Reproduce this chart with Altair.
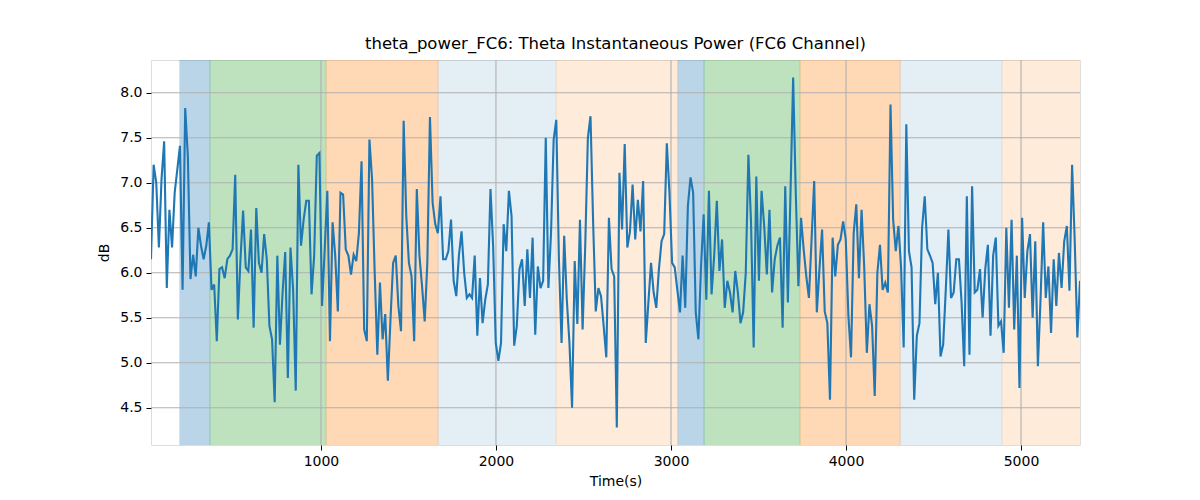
import altair as alt
import numpy as np
import pandas as pd

# theta power (dB)
values = [
    6.15, 7.20, 7.00, 6.28, 7.04, 7.46, 5.83, 6.70, 6.28, 6.89, 7.15, 7.41, 5.81, 7.83, 7.30, 5.93,
    6.20, 5.96, 6.50, 6.30, 6.15, 6.30, 6.56, 5.81, 5.87, 5.24, 6.04, 6.06, 5.94, 6.15, 6.19,
    6.26, 7.09, 5.48, 6.15, 6.69, 6.06, 6.02, 6.48, 5.39, 6.72, 6.11, 6.00, 6.43, 6.15, 5.41,
    5.26, 4.56, 6.19, 5.20, 5.78, 6.23, 4.83, 6.28, 5.81, 4.69, 7.20, 6.30, 6.59, 6.80,
    6.80, 5.76, 6.19, 7.30, 7.33, 5.63, 6.26, 6.91, 5.24, 6.56, 6.19, 5.57, 6.89, 6.87, 6.26,
    6.19, 5.98, 6.20, 6.13, 6.44, 7.24, 5.37, 5.24, 7.48, 7.04, 6.00, 5.09, 5.89, 5.26, 5.54,
    4.80, 5.48, 6.11, 6.19, 5.63, 5.35, 7.69, 6.63, 6.11, 5.96, 5.24, 6.93, 6.19, 5.85, 5.46,
    6.11, 7.73, 6.78, 6.54, 6.44, 6.85, 6.15, 6.15, 6.24, 6.59, 5.91, 5.74, 6.19, 6.46, 6.00,
    5.72, 5.76, 5.72, 6.19, 5.30, 5.94, 5.44, 5.70, 5.87, 6.93, 6.30, 5.22, 5.02, 5.22, 6.54,
    6.24, 6.91, 6.63, 5.19, 5.41, 6.04, 6.15, 5.63, 6.26, 5.72, 6.39, 5.31, 6.07, 5.83,
    5.91, 7.50, 5.83, 6.44, 7.48, 7.70, 6.15, 5.22, 6.41, 5.70, 5.22, 4.50, 6.13, 5.43, 6.59,
    5.37, 6.30, 7.50, 7.74, 6.56, 5.57, 5.83, 5.74, 5.41, 5.06, 6.61, 6.04, 5.96, 4.28, 7.11,
    6.48, 7.43, 6.28, 6.46, 6.98, 6.37, 6.81, 6.46, 7.02, 5.22, 5.67, 6.11, 5.78, 5.61, 6.04,
    6.35, 6.43, 7.44, 6.89, 6.11, 6.06, 5.81, 5.56, 6.19, 5.61, 6.74, 7.06, 6.89, 5.56,
    5.26, 6.07, 6.65, 5.70, 6.91, 5.76, 6.19, 6.80, 6.02, 6.37, 5.61, 5.91, 5.78, 5.56, 6.02,
    5.78, 5.44, 5.56, 6.00, 7.31, 6.56, 5.17, 7.07, 5.91, 6.91, 6.52, 5.98, 6.70, 5.78, 6.15,
    6.30, 6.39, 5.39, 6.96, 5.67, 6.89, 8.17, 6.89, 5.85, 6.61, 6.26, 5.96, 5.72, 6.37, 7.02,
    5.56, 6.04, 6.48, 5.57, 5.44, 4.59, 6.39, 5.96, 6.31, 6.37, 6.57, 6.37, 5.52, 5.06,
    6.44, 6.76, 5.94, 6.70, 6.07, 5.11, 5.65, 5.41, 4.63, 6.00, 6.31, 5.81, 5.89, 5.78, 7.87,
    6.59, 6.24, 6.52, 6.07, 5.17, 7.65, 6.24, 6.06, 4.59, 5.30, 5.44, 6.50, 6.85, 6.26, 6.19,
    6.11, 5.65, 6.00, 5.07, 5.20, 5.81, 6.48, 5.72, 5.78, 6.15, 6.15, 5.67, 4.96, 6.85, 5.09,
    6.96, 5.78, 5.81, 6.04, 5.50, 6.04, 6.31, 5.30, 6.19, 6.39, 5.41, 5.46, 5.11, 6.50,
    5.61, 6.59, 5.37, 6.19, 4.72, 6.61, 5.72, 6.24, 6.43, 5.50, 6.35, 4.96, 5.70, 6.56, 5.72,
    6.07, 5.33, 6.15, 5.63, 6.22, 5.83, 6.35, 6.52, 5.80, 7.20, 6.35, 5.28, 5.91,
]
t_first, t_last = 29.0, 5337.0
times = np.linspace(t_first, t_last, len(values))

# shaded phases
span_start = [194, 366, 1029, 1669, 2343, 3040, 3189, 3737, 4309, 4891]
span_end = [366, 1029, 1669, 2343, 3040, 3189, 3737, 4309, 4891, 5400]
span_color = ["#1f77b4", "#2ca02c", "#ff7f0e", "#1f77b4", "#ff7f0e",
              "#1f77b4", "#2ca02c", "#ff7f0e", "#1f77b4", "#ff7f0e"]
span_alpha = [0.3, 0.3, 0.3, 0.12, 0.15, 0.3, 0.3, 0.3, 0.12, 0.15]

x_ticks = [1000, 2000, 3000, 4000, 5000]
y_ticks = [4.5, 5.0, 5.5, 6.0, 6.5, 7.0, 7.5, 8.0]

line_df = pd.DataFrame({"t": times, "v": values})
span_df = pd.DataFrame({"s": span_start, "e": span_end, "c": span_color, "a": span_alpha})

vmin, vmax = min(values), max(values)
pad = 0.05 * (vmax - vmin)
xscale = alt.Scale(domain=[t_first, t_last], nice=False, zero=False)
yscale = alt.Scale(domain=[vmin - pad, vmax + pad], nice=False, zero=False)

xaxis = alt.Axis(values=x_ticks, format="d", grid=False, domain=False, tickColor="black",
                 tickSize=5, tickWidth=1, labelPadding=4, labelFontSize=14, labelColor="black",
                 labelFont="DejaVu Sans", title="Time(s)", titleFont="DejaVu Sans",
                 titleFontSize=14, titleFontWeight="normal", titleColor="black", titlePadding=6)
yaxis = alt.Axis(values=y_ticks, format=".1f", grid=False, domain=False, tickColor="black",
                 tickSize=5, tickWidth=1, labelPadding=4, labelFontSize=14, labelColor="black",
                 labelFont="DejaVu Sans", title="dB", titleFont="DejaVu Sans",
                 titleFontSize=14, titleFontWeight="normal", titleColor="black", titlePadding=8)

spans = alt.Chart(span_df).mark_rect(clip=True, strokeWidth=1).encode(
    x=alt.X("s:Q", scale=xscale, axis=xaxis),
    x2="e:Q",
    color=alt.Color("c:N", scale=None),
    stroke=alt.Stroke("c:N", scale=None),
    opacity=alt.Opacity("a:Q", scale=None),
)

xgrid = alt.Chart(pd.DataFrame({"x": x_ticks})).mark_rule(color="#b0b0b0", strokeWidth=1.1).encode(
    x=alt.X("x:Q", scale=xscale, axis=xaxis)
)
ygrid = alt.Chart(pd.DataFrame({"y": y_ticks})).mark_rule(color="#b0b0b0", strokeWidth=1.1).encode(
    y=alt.Y("y:Q", scale=yscale, axis=yaxis)
)

line = alt.Chart(line_df).mark_line(color="#1f77b4", strokeWidth=2.1, clip=True).encode(
    x=alt.X("t:Q", scale=xscale, axis=xaxis),
    y=alt.Y("v:Q", scale=yscale, axis=yaxis),
)

chart = alt.layer(spans, xgrid, ygrid, line).properties(
    width=929,
    height=385,
    title=alt.TitleParams("theta_power_FC6: Theta Instantaneous Power (FC6 Channel)",
                          font="DejaVu Sans", fontSize=16.5, fontWeight="normal",
                          color="black", anchor="middle", offset=7),
    padding={"left": 151, "top": 60, "right": 120, "bottom": 55},
    autosize=alt.AutoSizeParams(type="none"),
).configure_view(stroke="black", strokeWidth=1).configure(background="white")

chart.save("out.html", embed_options={"renderer": "svg", "actions": False})
